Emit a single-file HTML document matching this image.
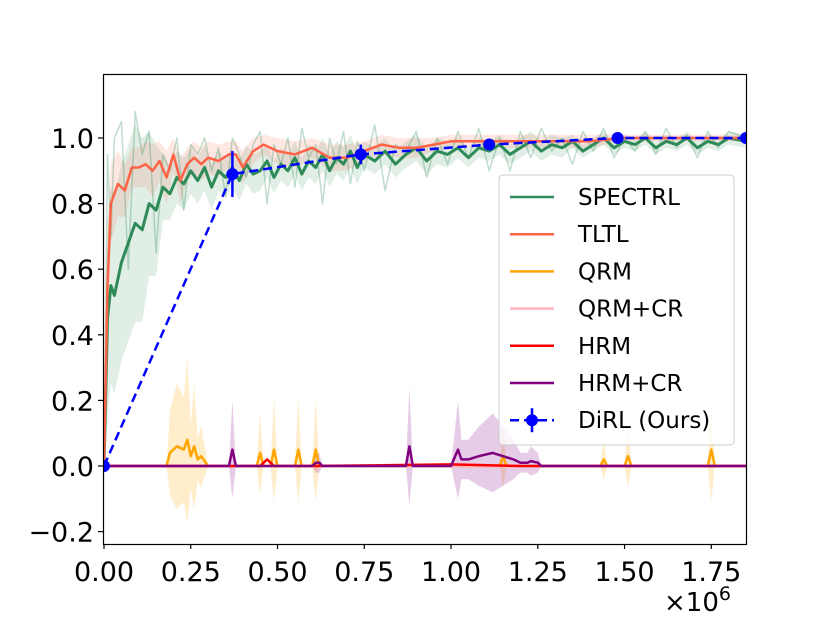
<!DOCTYPE html>
<html><head><meta charset="utf-8"><style>
body{margin:0;background:#fff}
svg text{font-family:"DejaVu Sans","Liberation Sans",sans-serif;fill:#000}
</style></head><body>
<svg id="chart" width="830" height="623" viewBox="0 0 830 623" xmlns="http://www.w3.org/2000/svg">
<defs><clipPath id="clip"><rect x="103" y="74" width="643" height="470"/></clipPath></defs>
<g id="plot" clip-path="url(#clip)"></g>
<g id="axes"></g>
<g id="legend"></g>
</svg>
<script>
const xTicks=[0,0.25,0.5,0.75,1.0,1.25,1.5,1.75];
const xTickLabels=["0.00","0.25","0.50","0.75","1.00","1.25","1.50","1.75"];
const yTicks=[-0.2,0,0.2,0.4,0.6,0.8,1.0];
const yTickLabels=["\u22120.2","0.0","0.2","0.4","0.6","0.8","1.0"];
const gridX=[0,0.01,0.02,0.03,0.05,0.07,0.09,0.11,0.13,0.15,0.17,0.19,0.21,0.23,0.25,0.27,0.29,0.31,0.33,0.35,0.37,0.39,0.41,0.43,0.45,0.47,0.49,0.51,0.53,0.55,0.57,0.59,0.61,0.63,0.65,0.67,0.69,0.71,0.73,0.75,0.78,0.81,0.84,0.87,0.9,0.93,0.96,0.99,1.02,1.05,1.08,1.11,1.14,1.17,1.2,1.23,1.26,1.29,1.32,1.35,1.38,1.41,1.44,1.47,1.5,1.53,1.56,1.59,1.62,1.65,1.68,1.71,1.74,1.77,1.8,1.85];
const spectrlMean=[0,0.45,0.55,0.52,0.62,0.68,0.74,0.72,0.8,0.78,0.85,0.83,0.88,0.86,0.9,0.87,0.91,0.85,0.9,0.88,0.91,0.87,0.92,0.89,0.9,0.93,0.88,0.92,0.9,0.94,0.89,0.93,0.91,0.95,0.9,0.94,0.92,0.96,0.91,0.95,0.93,0.96,0.92,0.95,0.97,0.93,0.96,0.95,0.97,0.94,0.97,0.96,0.98,0.95,0.97,0.99,0.96,0.98,0.97,0.99,0.96,0.98,1.0,0.97,0.99,0.98,1.0,0.97,0.99,0.98,1.0,0.97,0.99,0.98,1.0,0.99];
const spectrlRaw=[0,0.95,0.7,1.0,1.05,0.6,1.08,0.95,1.02,0.65,0.95,0.9,1.0,0.78,0.98,0.95,1.0,0.9,0.97,0.82,1.0,0.95,0.88,0.98,1.02,0.8,0.98,0.92,1.0,0.85,1.03,0.94,0.98,0.8,1.0,0.92,1.02,0.86,0.99,0.9,1.04,0.84,0.98,0.96,1.02,0.88,1.0,0.92,1.02,0.94,1.03,0.9,1.0,0.9,1.02,0.94,1.03,0.96,1.0,0.92,1.02,0.96,1.03,0.94,1.0,0.96,1.02,0.95,1.03,0.97,1.01,0.94,1.02,0.97,1.02,1.0];
const spectrlSpread=[0.05,0.3,0.3,0.3,0.3,0.3,0.3,0.28,0.22,0.2,0.1,0.08,0.08,0.08,0.07,0.07,0.07,0.07,0.06,0.06,0.06,0.06,0.06,0.06,0.06,0.05,0.05,0.05,0.05,0.05,0.05,0.05,0.05,0.05,0.05,0.05,0.05,0.05,0.05,0.04,0.04,0.04,0.04,0.04,0.04,0.04,0.04,0.04,0.03,0.03,0.03,0.03,0.03,0.03,0.03,0.03,0.03,0.03,0.03,0.02,0.02,0.02,0.02,0.02,0.02,0.02,0.02,0.02,0.02,0.02,0.02,0.02,0.02,0.02,0.02,0.02];
const tltlX=[0,0.01,0.02,0.04,0.06,0.08,0.1,0.12,0.14,0.16,0.18,0.2,0.22,0.24,0.26,0.28,0.3,0.33,0.36,0.38,0.4,0.43,0.46,0.5,0.55,0.6,0.65,0.7,0.75,0.8,0.85,0.9,0.95,1.0,1.1,1.2,1.3,1.4,1.5,1.6,1.7,1.85];
const tltlY=[0,0.55,0.8,0.86,0.84,0.91,0.91,0.92,0.9,0.93,0.88,0.95,0.87,0.92,0.94,0.92,0.94,0.93,0.95,0.95,0.91,0.96,0.98,0.96,0.95,0.97,0.94,0.94,0.96,0.98,0.97,0.97,0.98,0.99,0.99,0.99,0.99,0.99,1.0,1.0,1.0,1.0];
const tltlSpread=[0,0.15,0.12,0.1,0.08,0.06,0.06,0.07,0.08,0.06,0.08,0.05,0.07,0.05,0.05,0.05,0.05,0.05,0.04,0.04,0.05,0.04,0.03,0.04,0.04,0.03,0.04,0.04,0.03,0.03,0.03,0.03,0.02,0.02,0.02,0.02,0.02,0.02,0.01,0.01,0.01,0.01];
const qrmX=[0,0.18,0.19,0.21,0.23,0.24,0.25,0.26,0.27,0.28,0.3,0.44,0.45,0.46,0.48,0.49,0.5,0.55,0.56,0.57,0.6,0.61,0.62,1.14,1.15,1.16,1.43,1.44,1.45,1.5,1.51,1.52,1.74,1.75,1.76,1.85];
const qrmY=[0,0,0.04,0.06,0.05,0.08,0.03,0.06,0.02,0.03,0,0,0.04,0,0,0.05,0,0,0.05,0,0,0.05,0,0,0.03,0,0,0.02,0,0,0.03,0,0,0.05,0,0];
const hrmX=[0,0.45,0.47,0.49,0.6,1.0,1.2,1.85];
const hrmY=[0,0,0.02,0,0,0.005,0,0];
const hrmcrX=[0,0.36,0.37,0.38,0.6,0.61,0.62,0.63,0.87,0.88,0.89,1.0,1.02,1.03,1.05,1.08,1.12,1.15,1.18,1.2,1.22,1.23,1.25,1.26,1.85];
const hrmcrY=[0,0,0.05,0,0,0.01,0.01,0,0,0.06,0,0,0.05,0.02,0.02,0.03,0.04,0.03,0.02,0.01,0.01,0.015,0.01,0,0];
const dirlX=[0,0.37,0.74,1.11,1.48,1.85];
const dirlY=[0,0.89,0.95,0.98,1.0,1.0];
const dirlErr=[0,0.07,0.03,0.01,0.005,0.005];

const NS="http://www.w3.org/2000/svg";
const X=v=>104+v*347.03;
const Y=v=>466-v*328;
function mk(parent,tag,attrs){const e=document.createElementNS(NS,tag);for(const k in attrs)e.setAttribute(k,attrs[k]);parent.appendChild(e);return e;}
const plot=document.getElementById('plot'),axes=document.getElementById('axes'),leg=document.getElementById('legend');
function pts(xs,ys){return xs.map((x,i)=>X(x).toFixed(1)+','+Y(ys[i]).toFixed(1)).join(' ');}
function band(xs,ys,sp,fill,op,name){
  const up=xs.map((x,i)=>X(x).toFixed(1)+','+Y(ys[i]+sp[i]).toFixed(1));
  const lo=xs.map((x,i)=>X(x).toFixed(1)+','+Y(ys[i]-sp[i]).toFixed(1)).reverse();
  const p=mk(plot,'polygon',{points:up.concat(lo).join(' '),fill:fill,'fill-opacity':op});
  
  
}
function line(xs,ys,color,w,name,extra){
  const p=mk(plot,'polyline',Object.assign({points:pts(xs,ys),fill:'none',stroke:color,'stroke-width':w,'stroke-linejoin':'round'},extra||{}));
  
  
}
band(qrmX,qrmY,qrmY.map(v=>v*3.2),'#ffa500',0.2,'qrm-band');
band(hrmcrX,hrmcrY,hrmcrY.map(v=>v*3),'#800080',0.2,'hrmcr-band');
band(gridX,spectrlMean,spectrlSpread,'#2e8b57',0.15,'spectrl-band');
band(tltlX,tltlY,tltlSpread,'#ff6347',0.15,'tltl-band');
line(gridX,spectrlRaw,'#2e8b57',1.5,'spectrl-raw-line',{'stroke-opacity':0.3});
line(gridX,spectrlMean,'#2e8b57',3,'spectrl-line');
line(tltlX,tltlY,'#ff6347',2.5,'tltl-line');
line(qrmX,qrmY,'#ffa500',2.5,'qrm-line');
line([0,1.85],[0,0],'#ffb6c1',2.5,'qrmcr-line');
line(hrmX,hrmY,'#ff0000',2.5,'hrm-line');
line(hrmcrX,hrmcrY,'#800080',2.5,'hrmcr-line');
line(dirlX,dirlY,'#0000ff',2.5,'dirl-line',{'stroke-dasharray':'9,5'});
dirlX.forEach((x,i)=>{
  const e=mk(plot,'line',{x1:X(x),x2:X(x),y1:Y(dirlY[i]+dirlErr[i]),y2:Y(dirlY[i]-dirlErr[i]),stroke:'#0000ff','stroke-width':2.5});
  
  
  const c=mk(plot,'circle',{cx:X(x),cy:Y(dirlY[i]),r:6,fill:'#0000ff'});
  
  
});
const fr=mk(axes,'rect',{x:103.5,y:74.5,width:643,height:470,fill:'none',stroke:'#000','stroke-width':1.2});


xTicks.forEach((t,i)=>{
  mk(axes,'line',{x1:X(t),x2:X(t),y1:544,y2:549,stroke:'#000','stroke-width':1.2});
  const tx=mk(axes,'text',{x:X(t),y:581,'font-size':27,'text-anchor':'middle'});tx.textContent=xTickLabels[i];
  
  
});
yTicks.forEach((t,i)=>{
  mk(axes,'line',{x1:98,x2:103,y1:Y(t),y2:Y(t),stroke:'#000','stroke-width':1.2});
  const tx=mk(axes,'text',{x:94,y:Y(t)+10,'font-size':27,'text-anchor':'end'});tx.textContent=yTickLabels[i];
  
  
});
const off=mk(axes,'text',{x:664,y:611,'font-size':26});off.innerHTML='×10<tspan dy="-11" font-size="19">6</tspan>';


const lb=mk(leg,'rect',{x:499,y:175,width:235,height:270,rx:4,fill:'#fff','fill-opacity':0.8,stroke:'#ccc'});


const names=["SPECTRL","TLTL","QRM","QRM+CR","HRM","HRM+CR","DiRL (Ours)"];
const cols=['#2e8b57','#ff6347','#ffa500','#ffb6c1','#ff0000','#800080','#0000ff'];
names.forEach((n,i)=>{
  const y=197+i*37.2;
  const g=mk(leg,'g',{});
  
  
  mk(g,'line',{x1:510,x2:554,y1:y,y2:y,stroke:cols[i],'stroke-width':2.5,'stroke-dasharray':i==6?'9,5':'none'});
  if(i==6){mk(g,'circle',{cx:532,cy:y,r:6,fill:cols[i]});mk(g,'line',{x1:532,x2:532,y1:y-12,y2:y+12,stroke:cols[i],'stroke-width':2.5});}
  const t=mk(g,'text',{x:578,y:y+8,'font-size':23});t.textContent=n;
});
</script>
</body></html>
